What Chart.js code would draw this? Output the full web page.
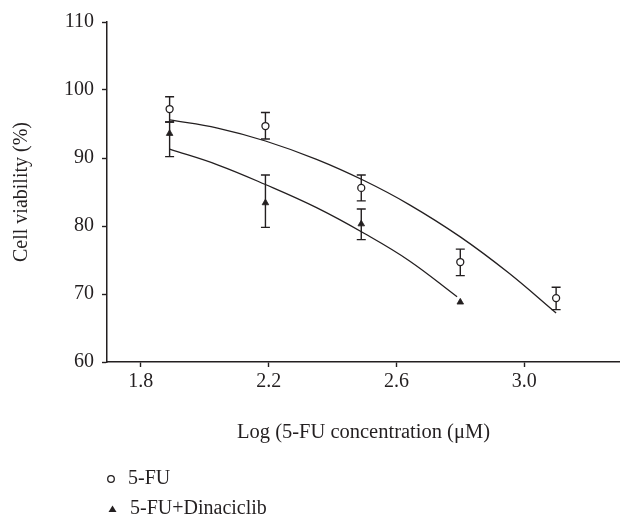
<!DOCTYPE html>
<html>
<head>
<meta charset="utf-8">
<script src="https://cdn.jsdelivr.net/npm/chart.js@4.4.0/dist/chart.umd.min.js"></script>
<style>
  html, body { margin: 0; padding: 0; background: #fff; }
</style>
</head>
<body>
<canvas id="c" width="620" height="515"></canvas>
<script>
// log concentrations (78 -> 1250 µM, twofold)
const fuX = [1.89, 2.19, 2.49, 2.80, 3.10];
const fuMean = [97.2, 94.7, 85.6, 74.7, 69.4];
const fuHigh = [99.0, 96.7, 87.5, 76.6, 71.0];
const fuLow = [95.3, 92.8, 83.7, 72.7, 67.7];

const dinX = [1.89, 2.19, 2.49, 2.80];
const dinMean = [93.6, 83.4, 80.3, 68.8];
const dinHigh = [95.3, 87.5, 82.5, 68.8];
const dinLow = [90.2, 79.8, 78.0, 68.8];

// fitted curves
const fuFitX = [1.89, 2.04, 2.19, 2.35, 2.50, 2.64, 2.80, 2.95, 3.10];
const fuFitY = [95.6, 94.4, 92.5, 89.8, 86.65, 83.15, 78.4, 73.15, 67.2];
const dinFitX = [1.89, 2.04, 2.19, 2.35, 2.50, 2.64, 2.79];
const dinFitY = [91.3, 89.0, 86.1, 82.7, 78.9, 74.9, 69.6];

const xTicks = [1.8, 2.2, 2.6, 3.0];
const legendLabels = ["5-FU", "5-FU+Dinaciclib"];

const ink = "#231f20";
const serif = "'Liberation Serif', 'Times New Roman', serif";

const pts = (xs, ys) => xs.map((x, i) => ({ x, y: ys[i] }));

// error bars, drawn behind the markers
const errorBars = {
  id: "errorBars",
  beforeDatasetsDraw(chart) {
    const { ctx, scales: { x, y } } = chart;
    ctx.save();
    ctx.strokeStyle = ink;
    ctx.lineWidth = 1.4;
    chart.data.datasets.forEach(ds => {
      if (!ds.errHigh) return;
      ds.data.forEach((p, j) => {
        const px = x.getPixelForValue(p.x);
        const top = y.getPixelForValue(ds.errHigh[j]);
        const bot = y.getPixelForValue(ds.errLow[j]);
        if (bot - top < 1) return;
        ctx.beginPath();
        ctx.moveTo(px, top); ctx.lineTo(px, bot);
        ctx.moveTo(px - 4.5, top); ctx.lineTo(px + 4.5, top);
        ctx.moveTo(px - 4.5, bot); ctx.lineTo(px + 4.5, bot);
        ctx.stroke();
      });
    });
    ctx.restore();
  },
};

// legend stacked at the bottom left
const stackedLegend = {
  id: "stackedLegend",
  afterDraw(chart) {
    const { ctx, chartArea } = chart;
    const x0 = chartArea.left;
    const y0 = chartArea.bottom + 117;
    ctx.save();
    ctx.font = "20px " + serif;
    ctx.fillStyle = ink;
    ctx.textBaseline = "middle";

    // open circle
    ctx.beginPath();
    ctx.arc(x0 + 4, y0, 3.3, 0, Math.PI * 2);
    ctx.lineWidth = 1.3;
    ctx.strokeStyle = ink;
    ctx.fillStyle = "#fff";
    ctx.fill();
    ctx.stroke();
    ctx.fillStyle = ink;
    ctx.fillText(legendLabels[0], x0 + 21, y0);

    // filled triangle
    const ty = y0 + 30;
    ctx.beginPath();
    ctx.moveTo(x0 + 5.5, ty - 3.5);
    ctx.lineTo(x0 + 9.5, ty + 3);
    ctx.lineTo(x0 + 1.5, ty + 3);
    ctx.closePath();
    ctx.fill();
    ctx.fillText(legendLabels[1], x0 + 23, ty);
    ctx.restore();
  },
};

new Chart(document.getElementById("c"), {
  type: "scatter",
  data: {
    datasets: [
      {
        label: legendLabels[0],
        data: pts(fuX, fuMean),
        errHigh: fuHigh,
        errLow: fuLow,
        pointStyle: "circle",
        pointRadius: 3.5,
        pointBorderWidth: 1.3,
        pointBackgroundColor: "#fff",
        pointBorderColor: ink,
        showLine: false,
      },
      {
        label: legendLabels[1],
        data: pts(dinX, dinMean),
        errHigh: dinHigh,
        errLow: dinLow,
        pointStyle: "triangle",
        pointRadius: 3.8,
        pointBorderWidth: 0.8,
        pointBackgroundColor: ink,
        pointBorderColor: ink,
        showLine: false,
      },
      {
        label: "5-FU fit",
        data: pts(fuFitX, fuFitY),
        showLine: true,
        borderColor: ink,
        borderWidth: 1.3,
        pointRadius: 0,
        tension: 0.4,
        fill: false,
      },
      {
        label: "5-FU+Dinaciclib fit",
        data: pts(dinFitX, dinFitY),
        showLine: true,
        borderColor: ink,
        borderWidth: 1.3,
        pointRadius: 0,
        tension: 0.4,
        fill: false,
      },
    ],
  },
  options: {
    responsive: false,
    animation: false,
    events: [],
    layout: { autoPadding: false, padding: { left: 0, right: 0, top: 22, bottom: 68 } },
    plugins: {
      legend: { display: false },
      tooltip: { enabled: false },
    },
    scales: {
      x: {
        type: "linear",
        min: 1.694,
        max: 3.30,
        afterBuildTicks: s => { s.ticks = xTicks.map(v => ({ value: v })); },
        afterFit: s => { s.height = 85; },
        ticks: {
          color: ink,
          font: { family: serif, size: 20 },
          padding: 3,
          callback: v => Number(v).toFixed(1),
          maxRotation: 0,
        },
        grid: { drawOnChartArea: false, color: ink, tickLength: 5, tickWidth: 1.4 },
        border: { color: ink, width: 1.5 },
        title: {
          display: true,
          text: "Log (5-FU concentration (μM)",
          color: ink,
          font: { family: serif, size: 20.5 },
          padding: { top: 4, bottom: 2 },
        },
      },
      y: {
        min: 60,
        max: 110,
        afterFit: s => { s.width = 107; },
        ticks: {
          stepSize: 10,
          color: ink,
          font: { family: serif, size: 20 },
          padding: 8,
        },
        grid: { drawOnChartArea: false, color: ink, tickLength: 5, tickWidth: 1.4 },
        border: { color: ink, width: 1.5 },
        title: {
          display: true,
          text: "Cell viability (%)",
          color: ink,
          font: { family: serif, size: 20 },
          padding: { top: 10, bottom: 0 },
        },
      },
    },
  },
  plugins: [errorBars, stackedLegend],
});
</script>
</body>
</html>
